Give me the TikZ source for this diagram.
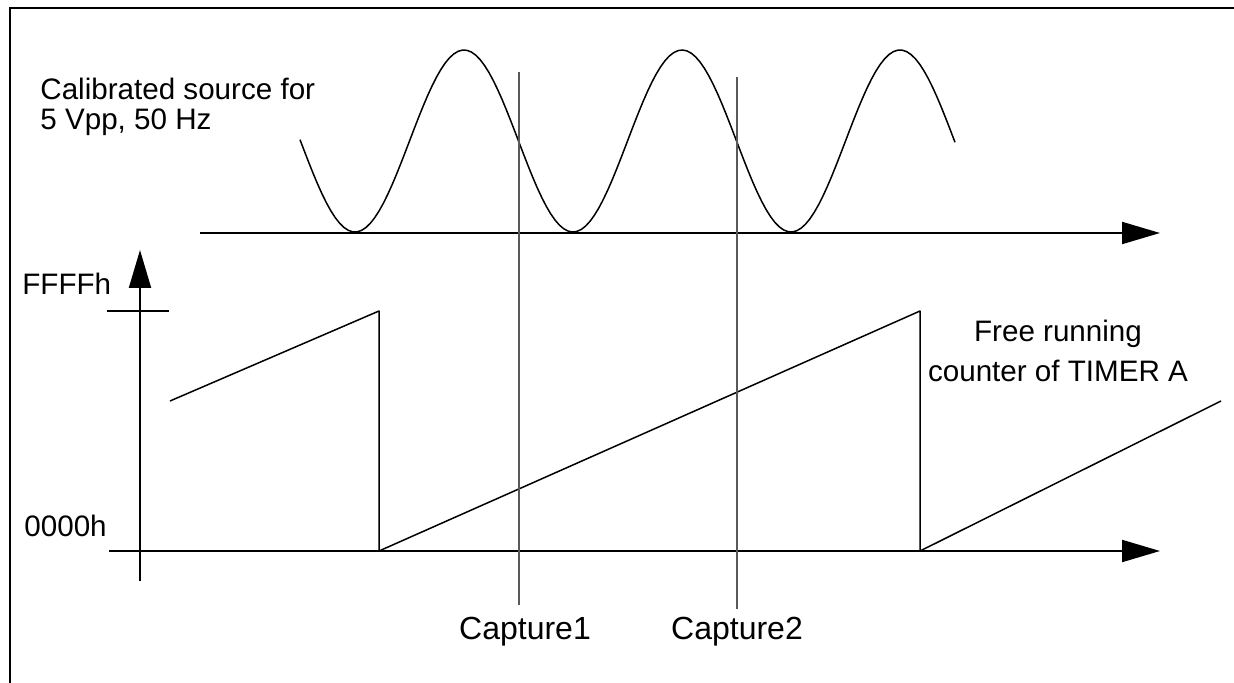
\documentclass[tikz,border=0pt]{standalone}
\usepackage{fontspec}
\setmainfont{Liberation Sans}
\usetikzlibrary{arrows.meta}

\begin{document}
\begin{tikzpicture}[x=0.5pt, y=-0.5pt, >={Triangle[length=19pt,width=11pt]},
    lbl/.style={inner sep=0pt, font=\fontsize{14.8}{15}\selectfont},
    axis/.style={line width=1pt},
    trace/.style={line width=0.75pt, line join=round},
    capline/.style={line width=0.65pt, black!65}]
    \useasboundingbox (0,0) rectangle (1234,683);

    % frame, cut at the right and bottom
    \draw[line width=1pt] (10,683) -- (10,8) -- (1234,8);

    % source signal and its time axis
    \coordinate (s0) at (200,233);
    \coordinate (s1) at (1160,233);
    \draw[axis, ->] (s0) -- (s1);
    \draw[trace] plot[domain=300:955, samples=150]
        (\x, {141+91*cos((\x-355)/218*360)});
    \node[lbl, align=left, anchor=north west] (src) at (40,78)
        {Calibrated source for\\5 Vpp, 50 Hz};

    % counter axes
    \coordinate (c0) at (109,551);
    \coordinate (c1) at (1160,551);
    \coordinate (v0) at (140,581);
    \coordinate (v1) at (140,250);
    \draw[axis, ->] (c0) -- (c1);
    \draw[axis, ->] (v0) -- (v1);
    \draw[axis] (107,311) -- (169,311);
    \node[lbl, anchor=north west] (ffff) at (22,273) {FFFFh};
    \node[lbl, anchor=north west] (zero) at (24,515) {0000h};

    % free running counter
    \draw[trace] (170,401) -- (379,311) -- (379,551) -- (920,311)
        -- (920,551) -- (1221,401);
    \node[lbl, align=center, anchor=north,
        font=\fontsize{14.8}{20}\selectfont] (cnt) at (1058,320)
        {Free running\\counter of TIMER A};

    % capture instants
    \foreach \n/\x/\lx/\top/\bot in {1/519/525/72/605, 2/737/737/77/609} {
        \coordinate (ct\n) at (\x,\top);
        \coordinate (cb\n) at (\x,\bot);
        \node[lbl, anchor=north, font=\fontsize{16}{18}\selectfont]
            (cap\n) at (\lx,617) {Capture\n};
        \draw[capline] (ct\n) -- (cb\n);
    }
\end{tikzpicture}
\end{document}
